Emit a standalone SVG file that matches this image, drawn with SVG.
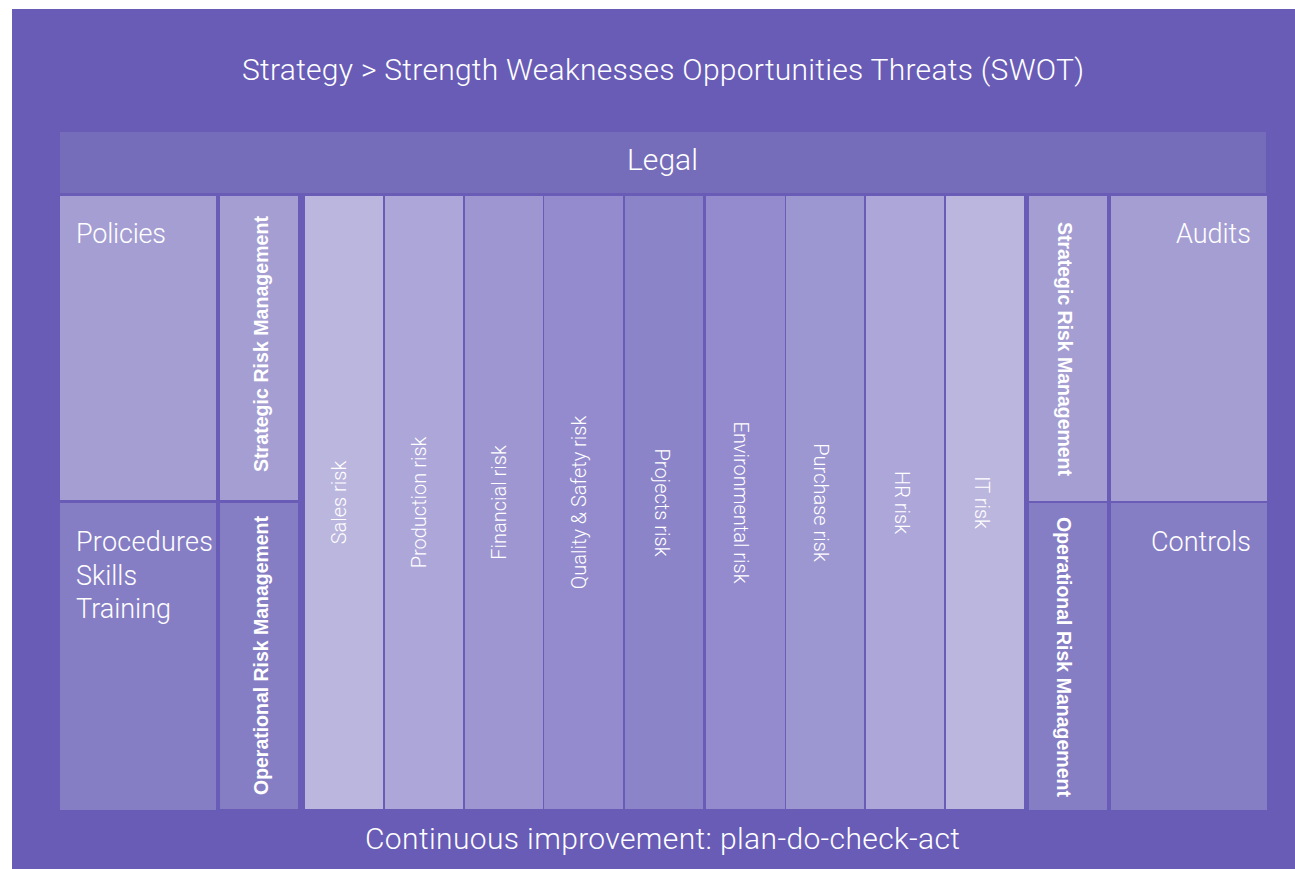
<svg xmlns="http://www.w3.org/2000/svg" width="1295" height="869" viewBox="0 0 1295 869">
  <style>
    .lt { font-family: Roboto, "Liberation Sans", Arial, sans-serif; font-weight: 300; fill: #ffffff; }
    .bd { font-family: "Liberation Sans", Arial, sans-serif; font-weight: 700; fill: #ffffff; font-size: 19.5px; }
    .big { font-size: 30px; }
    .box { font-size: 27px; }
    .risk { font-size: 20px; }
    .mid { text-anchor: middle; }
    .end { text-anchor: end; }
  </style>

  <!-- white page and purple frame -->
  <rect x="0" y="0" width="1295" height="869" fill="#ffffff"/>
  <rect x="12" y="9" width="1283" height="860" fill="#685cb6"/>

  <g id="strategy">
    <text class="lt big" x="242" y="80" textLength="842">Strategy &gt; Strength Weaknesses Opportunities Threats (SWOT)</text>
  </g>

  <g id="legal">
    <rect x="60" y="132" width="1206" height="61" fill="#766dba"/>
    <text class="lt big" x="627" y="170" textLength="71">Legal</text>
  </g>

  <!-- left side: policies / procedures -->
  <g id="policies">
    <rect x="60" y="196" width="156" height="304" fill="#a59ed3"/>
    <text class="lt box" x="76" y="243" textLength="90">Policies</text>
  </g>
  <g id="procedures">
    <rect x="60" y="503" width="156" height="307" fill="#867ec4"/>
    <text class="lt box" x="76" y="551" textLength="137">Procedures</text>
    <text class="lt box" x="76" y="585">Skills</text>
    <text class="lt box" x="76" y="618">Training</text>
  </g>
  <g id="strategic-left">
    <rect x="220" y="196" width="78" height="304" fill="#a59ed3"/>
    <text class="bd mid" transform="translate(268,344) rotate(-90)" textLength="256">Strategic Risk Management</text>
  </g>
  <g id="operational-left">
    <rect x="220" y="503" width="78" height="306" fill="#867ec4"/>
    <text class="bd mid" transform="translate(268,655.5) rotate(-90)" textLength="279">Operational Risk Management</text>
  </g>

  <!-- risk columns -->
  <g id="sales-risk">
    <rect x="305" y="196" width="78" height="613" fill="#bbb6de"/>
    <text class="lt risk mid" transform="translate(346,502.5) rotate(-90)">Sales risk</text>
  </g>
  <g id="production-risk">
    <rect x="385" y="196" width="78" height="613" fill="#aca6d9"/>
    <text class="lt risk mid" transform="translate(426,502.5) rotate(-90)">Production risk</text>
  </g>
  <g id="financial-risk">
    <rect x="465" y="196" width="78" height="613" fill="#9d96d1"/>
    <text class="lt risk mid" transform="translate(506,502.5) rotate(-90)">Financial risk</text>
  </g>
  <g id="quality-safety-risk">
    <rect x="544" y="196" width="79" height="613" fill="#938bcd"/>
    <text class="lt risk mid" transform="translate(586,502.5) rotate(-90)">Quality &amp; Safety risk</text>
  </g>
  <g id="projects-risk">
    <rect x="625" y="196" width="78" height="613" fill="#8b84c8"/>
    <text class="lt risk mid" transform="translate(655,502.5) rotate(90)">Projects risk</text>
  </g>
  <g id="environmental-risk">
    <rect x="706" y="196" width="79" height="613" fill="#938bcd"/>
    <text class="lt risk mid" transform="translate(734,502.5) rotate(90)">Environmental risk</text>
  </g>
  <g id="purchase-risk">
    <rect x="786" y="196" width="78" height="613" fill="#9c96d1"/>
    <text class="lt risk mid" transform="translate(814,502.5) rotate(90)">Purchase risk</text>
  </g>
  <g id="hr-risk">
    <rect x="866" y="196" width="78" height="613" fill="#aca6d9"/>
    <text class="lt risk mid" transform="translate(895,502.5) rotate(90)">HR risk</text>
  </g>
  <g id="it-risk">
    <rect x="946" y="196" width="78" height="613" fill="#bbb6de"/>
    <text class="lt risk mid" transform="translate(975,502.5) rotate(90)">IT risk</text>
  </g>

  <!-- right side: audits / controls -->
  <g id="strategic-right">
    <rect x="1029" y="196" width="78" height="305" fill="#a59ed3"/>
    <text class="bd mid" transform="translate(1058,349) rotate(90)" textLength="254">Strategic Risk Management</text>
  </g>
  <g id="operational-right">
    <rect x="1029" y="503" width="78" height="307" fill="#867ec4"/>
    <text class="bd mid" transform="translate(1057,657) rotate(90)" textLength="280">Operational Risk Management</text>
  </g>
  <g id="audits">
    <rect x="1111" y="196" width="156" height="305" fill="#a59ed3"/>
    <text class="lt box end" x="1251" y="243">Audits</text>
  </g>
  <g id="controls">
    <rect x="1111" y="503" width="156" height="307" fill="#867ec4"/>
    <text class="lt box end" x="1251" y="551">Controls</text>
  </g>

  <g id="continuous-improvement">
    <text class="lt big" x="365" y="849" textLength="595">Continuous improvement: plan-do-check-act</text>
  </g>
</svg>
